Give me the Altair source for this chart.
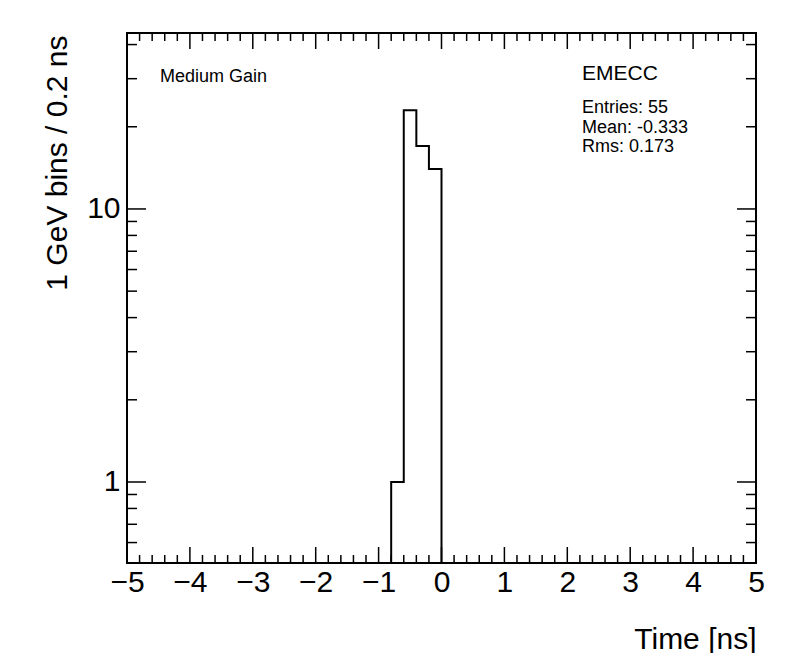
import altair as alt
import pandas as pd

# ---- data ----
bin_lo = [-0.8, -0.6, -0.4, -0.2]      # lower bin edges [ns]
bin_width = 0.2
counts = [1, 23, 17, 14]                # entries per bin

x_major = [-5, -4, -3, -2, -1, 0, 1, 2, 3, 4, 5]
x_minor = [round(-5 + 0.2 * i, 1) for i in range(51) if i % 5 != 0]
y_major = [1, 10]
y_minor = [0.6, 0.7, 0.8, 0.9, 2, 3, 4, 5, 6, 7, 8, 9, 20, 30, 40]

label_left = ["Medium Gain"]
label_title = ["EMECC"]
stats_lines = ["Entries: 55", "Mean: -0.333", "Rms: 0.173"]

YMIN, YMAX = 0.505, 44.1
W, H = 629, 530
FONT = "Liberation Sans"

# ---- build step outline from the histogram arrays ----
last_hi = round(bin_lo[-1] + bin_width, 3)
xs = [bin_lo[0]] + bin_lo + [last_hi, last_hi]
ys = [YMIN] + counts + [counts[-1], YMIN]
hist = pd.DataFrame({"x": xs, "y": ys, "i": list(range(len(xs)))})

xscale = alt.Scale(domain=[-5, 5], nice=False, zero=False)
yscale = alt.Scale(type="log", domain=[YMIN, YMAX], nice=False)

line = alt.Chart(hist).mark_line(
    interpolate="step-after", color="black", strokeWidth=2, clip=True
).encode(
    x=alt.X("x:Q", scale=xscale, axis=alt.Axis(
        values=x_major, title="Time [ns]", grid=False, ticks=False,
        labelExpr="replace(format(datum.value, 'd'), '-', '\u2212')",
        domain=False, labelPadding=4, labelFlush=False, labelOverlap=False,
        titleAlign="right", titleAnchor="end",
        titleX=W, titleY=85, titleBaseline="alphabetic")),
    y=alt.Y("y:Q", scale=yscale, axis=alt.Axis(
        values=y_major, format="~g", title="1 GeV bins / 0.2 ns", grid=False,
        ticks=False, domain=False, labelPadding=7, labelFlush=False,
        titleAngle=270, titleAlign="right", titleX=-61, titleY=2,
        titleBaseline="alphabetic")),
    order="i:O",
)

def xticks(vals, length):
    df = pd.DataFrame({"v": vals})
    bottom = alt.Chart(df).mark_rule(color="black", strokeWidth=1.5).encode(
        x=alt.X("v:Q", scale=xscale, axis=None),
        y=alt.value(H), y2=alt.value(H - length))
    top = alt.Chart(df).mark_rule(color="black", strokeWidth=1.5).encode(
        x=alt.X("v:Q", scale=xscale, axis=None),
        y=alt.value(0), y2=alt.value(length))
    return [bottom, top]

def yticks(vals, length):
    df = pd.DataFrame({"v": vals})
    left = alt.Chart(df).mark_rule(color="black", strokeWidth=1.5).encode(
        y=alt.Y("v:Q", scale=yscale, axis=None),
        x=alt.value(0), x2=alt.value(length))
    right = alt.Chart(df).mark_rule(color="black", strokeWidth=1.5).encode(
        y=alt.Y("v:Q", scale=yscale, axis=None),
        x=alt.value(W), x2=alt.value(W - length))
    return [left, right]

t_left = alt.Chart(pd.DataFrame({"t": label_left})).mark_text(
    font=FONT, fontSize=18, align="left", baseline="alphabetic", color="black"
).encode(text="t:N", x=alt.value(33), y=alt.value(49))

t_title = alt.Chart(pd.DataFrame({"t": label_title})).mark_text(
    font=FONT, fontSize=21, align="left", baseline="alphabetic", color="black"
).encode(text="t:N", x=alt.value(455), y=alt.value(47))

t_stats = alt.Chart(pd.DataFrame({"t": ["\n".join(stats_lines)]})).mark_text(
    font=FONT, fontSize=18, align="left", baseline="alphabetic", color="black",
    lineBreak="\n", lineHeight=19.5
).encode(text="t:N", x=alt.value(455), y=alt.value(80))

chart = alt.layer(
    line,
    *xticks(x_major, 16), *xticks(x_minor, 8),
    *yticks(y_major, 19), *yticks(y_minor, 10),
    t_left, t_title, t_stats,
).resolve_axis(
    x="independent", y="independent"
).properties(
    width=W, height=H,
    autosize=alt.AutoSizeParams(type="none"),
    padding={"left": 119, "top": 25, "right": 30, "bottom": 90},
    background="white",
).configure_view(
    stroke="black", strokeWidth=2
).configure_axis(
    labelFont=FONT, titleFont=FONT, labelFontSize=30, titleFontSize=30,
    labelColor="black", titleColor="black", titleFontWeight="normal",
)

chart.save("out.html", embed_options={"renderer": "svg", "actions": False})
